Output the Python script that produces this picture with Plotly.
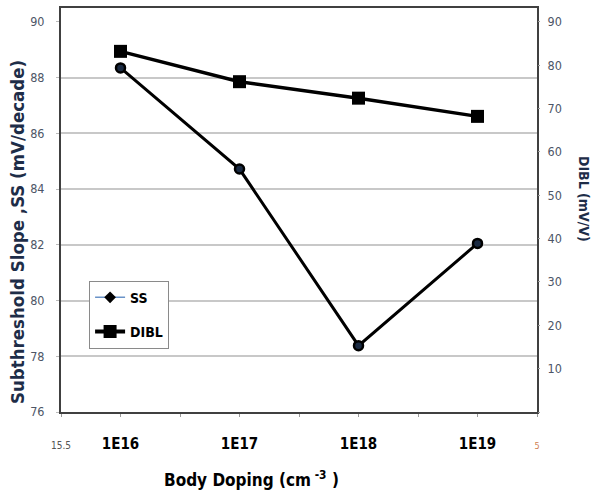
import plotly.graph_objects as go

# ---- data ----
doping_exp = [16, 17, 18, 19]
ss_values = [88.35, 84.72, 78.38, 82.05]
dibl_values = [83.2, 76.2, 72.4, 68.2]

x_tickvals = [15.5, 16, 16.5, 17, 17.5, 18, 18.5, 19, 19.5]
x_ticktext = ["<span style='font-size:10px;font-weight:normal;color:#555'>15.5</span>", "1E16", "", "1E17", "",
              "1E18", "", "1E19", "<span style='font-size:9px;font-weight:normal;color:#d08050'>5</span>"]
left_tickvals = [76, 78, 80, 82, 84, 86, 88, 90]
grid_vals = [78, 80, 82, 84, 86, 88]
right_tickvals = [0, 10, 20, 30, 40, 50, 60, 70, 80, 90]
right_ticktext = ["", "10", "20", "30", "40", "50", "60", "70", "80", "90"]

FONT = "Liberation Sans Narrow, Arial Narrow, DejaVu Sans Condensed, sans-serif"
TITLE_COLOR = "#1e2d48"
TICK_COLOR = "#4d5566"

fig = go.Figure()

# plotted lines
fig.add_trace(go.Scatter(
    x=doping_exp, y=ss_values, mode="lines+markers", showlegend=False,
    line=dict(color="#000000", width=3),
    marker=dict(symbol="circle", size=9, color="#1a2a42", line=dict(color="#000", width=2.5)),
    yaxis="y"))
fig.add_trace(go.Scatter(
    x=doping_exp, y=dibl_values, mode="lines+markers", showlegend=False,
    line=dict(color="#000000", width=3.5),
    marker=dict(symbol="square", size=13, color="#000000"),
    yaxis="y2"))

# legend entries
fig.add_trace(go.Scatter(
    x=[None], y=[None], mode="lines+markers", name="SS", legendgroup="a",
    line=dict(color="#6a93c8", width=1.5),
    marker=dict(symbol="diamond", size=9, color="#000")))
fig.add_trace(go.Scatter(
    x=[None], y=[None], mode="lines+markers", name="DIBL", legendgroup="b",
    line=dict(color="#000", width=4),
    marker=dict(symbol="square", size=13, color="#000")))

fig.update_layout(
    width=595, height=496,
    margin=dict(l=61, r=58, t=6, b=84),
    paper_bgcolor="white", plot_bgcolor="white",
    font=dict(family=FONT, size=12, color="#000"),
    showlegend=True,
    legend=dict(x=0.059, y=0.325, xanchor="left", yanchor="top",
                bgcolor="white", bordercolor="#8a8a8a", borderwidth=1,
                font=dict(family=FONT, size=14, color="#000", weight="bold"),
                traceorder="grouped", tracegroupgap=13, itemwidth=30),
    xaxis=dict(range=[15.5, 19.5], tickmode="array", tickvals=x_tickvals, ticktext=x_ticktext,
               ticks="outside", ticklen=3, tickcolor="#999", showgrid=False, zeroline=False,
               showline=True, linecolor="#404040", linewidth=2, mirror=True,
               tickfont=dict(family=FONT, size=15, color="#000", weight="bold"),
               ticklabelstandoff=14),
    yaxis=dict(range=[76, 90.5], tickmode="array", tickvals=left_tickvals,
               ticks="outside", ticklen=3, tickcolor="#bbb", showgrid=False, zeroline=False,
               showline=True, linecolor="#404040", linewidth=2, mirror=True,
               tickfont=dict(family=FONT, size=12.5, color=TICK_COLOR), ticklabelstandoff=9),
    yaxis2=dict(range=[0, 93.2], overlaying="y", side="right", tickmode="array",
                tickvals=right_tickvals, ticktext=right_ticktext,
                ticks="outside", ticklen=2, tickcolor="#999", showgrid=False, zeroline=False,
                showline=False,
                tickfont=dict(family=FONT, size=12.5, color=TICK_COLOR), ticklabelstandoff=5),
    yaxis3=dict(range=[76, 90.5], overlaying="y", tickmode="array", tickvals=grid_vals,
                showticklabels=False, showgrid=True, gridcolor="#c8c8c8", gridwidth=2,
                zeroline=False, showline=False, layer="below traces"),
)

# grid-only axis needs a trace reference to render
fig.add_trace(go.Scatter(x=[None], y=[None], yaxis="y3", showlegend=False, hoverinfo="skip"))

fig.add_annotation(text="<b>Subthreshold Slope ,SS (mV/decade)</b>", xref="paper", yref="paper",
                   x=-0.090, y=0.446, xanchor="center", yanchor="middle", textangle=-90,
                   showarrow=False, font=dict(family=FONT, size=18.5, color=TITLE_COLOR))
fig.add_annotation(text="<b>DIBL (mV/V)</b>", xref="paper", yref="paper",
                   x=1.099, y=0.527, xanchor="center", yanchor="middle", textangle=90,
                   showarrow=False, font=dict(family=FONT, size=14, color=TITLE_COLOR))
fig.add_annotation(text="<b>Body Doping (cm<sup> -3</sup> )</b>", xref="paper", yref="paper",
                   x=0.4, y=-0.165, xanchor="center", yanchor="middle",
                   showarrow=False, font=dict(family=FONT, size=17, color="#000"))

fig.write_html("out.html")
